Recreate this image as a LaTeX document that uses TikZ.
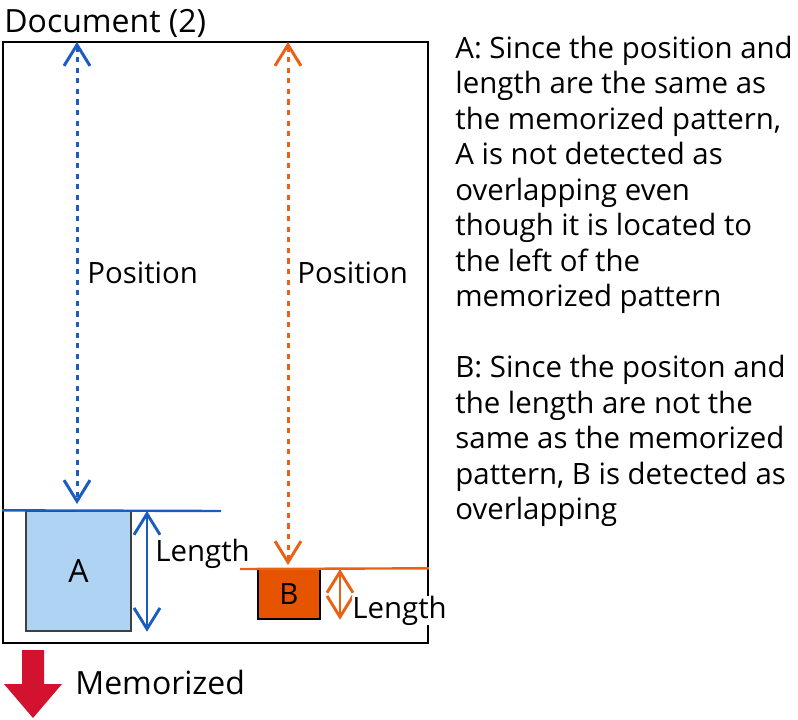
\documentclass[tikz,border=0pt]{standalone}
\usepackage{fontspec}
\setmainfont{Open Sans}
\usetikzlibrary{arrows.meta}
\definecolor{posblue}{HTML}{1A5CC0}
\definecolor{posorange}{HTML}{EB6113}
\definecolor{fillblue}{HTML}{AED3F3}
\definecolor{fillorange}{HTML}{E65400}
\definecolor{memred}{HTML}{D2122E}
\tikzset{
  txt/.style={font=\fontsize{14.7}{17.75}\selectfont, inner sep=0pt},
  bigtxt/.style={font=\fontsize{16}{19}\selectfont, inner sep=0pt},
  posline/.style={line width=1.5pt, dash pattern=on 2.65pt off 2.65pt,
    {Straight Barb[length=10.5pt, width=13pt]}-{Straight Barb[length=10.5pt, width=13pt]}},
  lenline/.style={line width=1.45pt,
    {Straight Barb[length=10.5pt, width=13pt]}-{Straight Barb[length=10.5pt, width=13pt]}},
  memobox/.style={draw, line width=0.7pt, inner sep=0pt},
}
\begin{document}
\begin{tikzpicture}[x=0.5pt, y=-0.5pt]
  \useasboundingbox (0,0) rectangle (798,719);
  % document frame
  \node[draw, line width=1pt, minimum width=212.5pt, minimum height=300.5pt, inner sep=0pt] (doc) at (215.5,342.5) {};
  \node[bigtxt, anchor=base west] (title) at (4,32) {Document (2)};
  % patterns
  \node[memobox, bigtxt, fill=fillblue, draw=black!75, minimum width=52.5pt, minimum height=60pt] (A) at (78.5,571) {A};
  \node[memobox, txt, fill=fillorange, minimum width=31pt, minimum height=25pt] (B) at (289,594) {B};
  \draw[posblue, line width=1.2pt] (doc.west |- A.north) -- (221,511);
  \draw[posorange, line width=1.2pt] (240,569) -- (doc.east |- B.north);
  % position arrows
  \coordinate (topA) at (77,42);
  \coordinate (topB) at (288,42);
  \draw[posline, posblue] (topA) -- (77,504);
  \draw[posline, posorange] (topB) -- (288,565);
  \node[txt, anchor=base west] (posA) at (87,283) {Position};
  \node[txt, anchor=base west] (posB) at (297,283) {Position};
  % length arrows
  \coordinate (lenA) at (147,511);
  \coordinate (lenB) at (340,569);
  \draw[lenline, posblue] (lenA) -- (lenA |- A.south);
  \draw[lenline, posorange] (lenB) -- (lenB |- B.south);
  \node[txt, anchor=base west] (lenAtxt) at (155,561) {Length};
  \node[txt, anchor=base west, fill=white] (lenBtxt) at (352,618) {Length};
  % memorized
  \fill[memred] (22,650) -- (44,650) -- (44,684) -- (62,684) -- (33,718) -- (4,684) -- (22,684) -- cycle;
  \node[bigtxt, anchor=base west] (mem) at (75,694) {Memorized};
  % notes
  \foreach \t [count=\i from 0] in {A: Since the position and, length are the same as, {the memorized pattern,},
      A is not detected as, overlapping even, though it is located to, the left of the, memorized pattern} {
    \node[txt, anchor=base west] (noteA-\i) at (455,58+35.5*\i) {\t};}
  \foreach \t [count=\i from 9] in {B: Since the positon and, the length are not the, same as the memorized,
      {pattern, B is detected as}, overlapping} {
    \node[txt, anchor=base west] (noteB-\i) at (455,58+35.5*\i) {\t};}
\end{tikzpicture}
\end{document}
